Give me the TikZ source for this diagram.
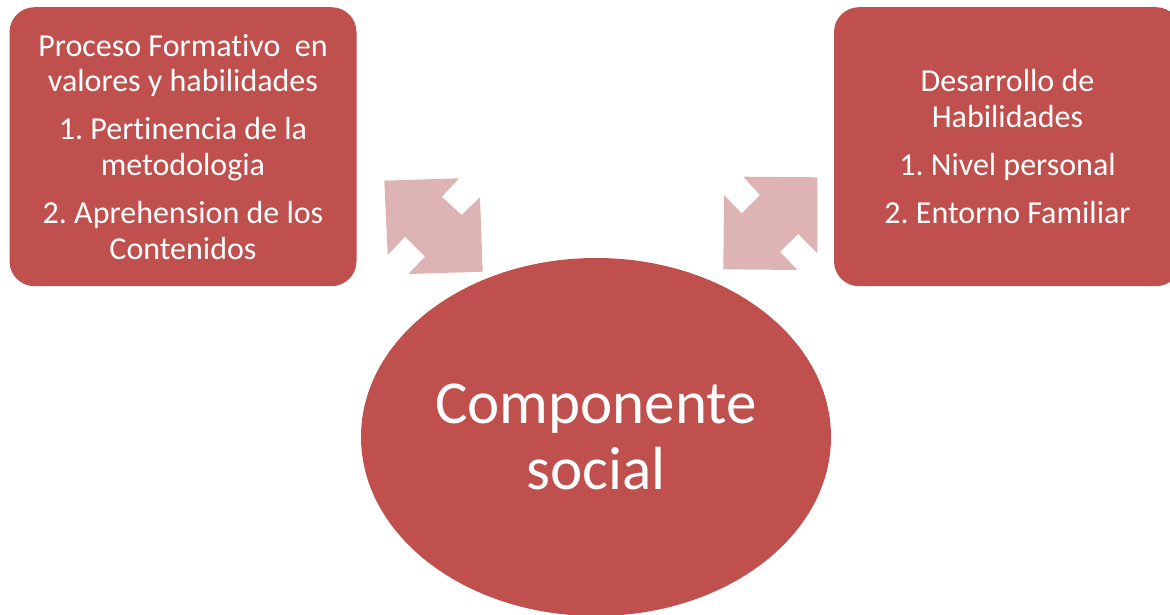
\documentclass[tikz,border=0pt]{standalone}
\usepackage{fontspec}
\setmainfont{Carlito}[Ligatures={NoCommon,NoContextual}]
\frenchspacing
\usetikzlibrary{shapes.geometric}
\definecolor{boxred}{HTML}{C0504D}
\definecolor{arrowpink}{HTML}{DDB3B3}
\begin{document}
\begin{tikzpicture}[x=1pt,y=-1pt,
    block/.style={fill=boxred,rounded corners=25pt,minimum width=347pt,minimum height=279pt,
        inner sep=0pt,text=white,align=center,font=\fontsize{32}{35.5}\selectfont},
    core/.style={ellipse,fill=boxred,minimum width=470pt,minimum height=358pt,
        inner sep=0pt,text=white,align=center,font=\fontsize{61}{66.7}\selectfont},
    twoway/.style={fill=arrowpink}]
        \useasboundingbox (0,0) rectangle (1170,615);
        \clip (0,0) rectangle (1170,615);
        % double arrows
        \fill[twoway] (384.3,180.7) -- (459.3,178.3) -- (441.7,196.7) -- (461.7,215)
            -- (480,197.3) -- (482.7,271.7) -- (408.3,274) -- (425,256.7)
            -- (405,236.7) -- (387.7,255) -- cycle;
        \fill[twoway] (817.3,177.3) -- (743.3,176.7) -- (760,195) -- (741.7,213.3)
            -- (724,195) -- (723.3,269.3) -- (797.3,270) -- (780,251.7)
            -- (798.3,234) -- (817.3,253.3) -- cycle;
        \node[block] (formativo) at (183,146.7)
            {Proceso Formativo\ \ en\\valores y habilidades\\[12.8pt]
             1. Pertinencia de la\\metodologia\\[12.8pt]
             2. Aprehension de los\\Contenidos};
        \node[block] (habilidades) at (1007.5,146.7)
            {Desarrollo de\\Habilidades\\[12.8pt]
             1. Nivel personal\\[12.8pt]
             2. Entorno Familiar};
        \node[core] (componente) at (596,437) {Componente\\social};
    \end{tikzpicture}
\end{document}
